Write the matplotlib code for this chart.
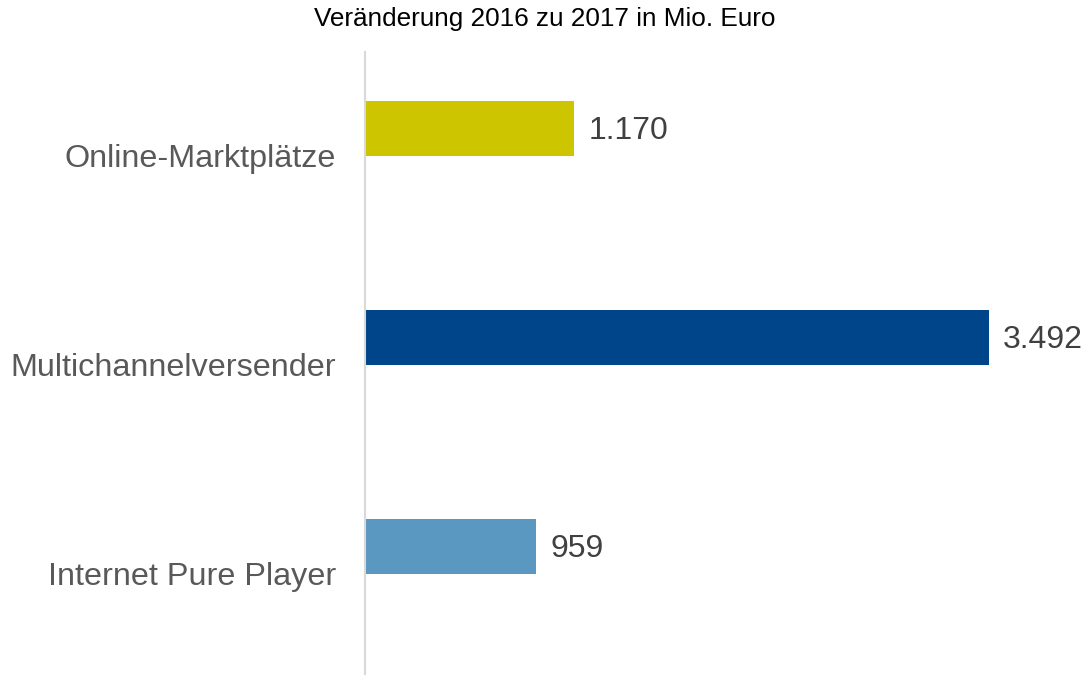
import matplotlib.pyplot as plt

# Daten
categories = ["Online-Marktplätze", "Multichannelversender", "Internet Pure Player"]
values = [1170, 3492, 959]
value_labels = ["1.170", "3.492", "959"]
colors = ["#CCC500", "#004489", "#5B98C1"]

plt.rcParams['font.family'] = ['Liberation Sans', 'DejaVu Sans']

fig = plt.figure(figsize=(10.9, 6.75), dpi=100)
ax = fig.add_axes([365 / 1090, 0.0, 1 - 365 / 1090, (675 - 52) / 675])

pos = list(range(len(categories)))
ax.barh(pos, values, height=0.263, color=colors)
ax.set_xlim(0, 4058)
ax.set_ylim(2.617, -0.364)

for p, v, lab in zip(pos, values, value_labels):
    ax.text(v + 80, p + 0.015, lab, va='center', ha='left', fontsize=23, color='#404040')

# Kategorien etwas unterhalb der Balkenmitte, wie im Original
for p, cat in zip(pos, categories):
    ax.text(-0.04, p + 0.15, cat, transform=ax.get_yaxis_transform(),
            va='center', ha='right', fontsize=23.3, color='#595959')

ax.set_yticks([])
ax.set_xticks([])
for s in ['top', 'right', 'bottom']:
    ax.spines[s].set_visible(False)
ax.spines['left'].set_color('#D9D9D9')
ax.spines['left'].set_linewidth(1.5)

fig.text(0.5, 1 - 19 / 675, "Veränderung 2016 zu 2017 in Mio. Euro",
         ha='center', va='center', fontsize=18.8, color='black')

fig.savefig("out.png", dpi=100)
